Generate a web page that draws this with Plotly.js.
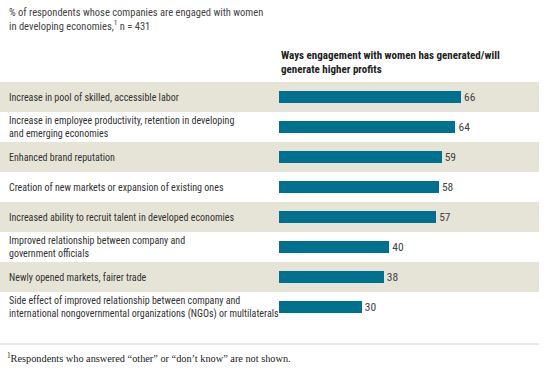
<!DOCTYPE html>
<html>
<head>
<meta charset="utf-8">
<script src="https://cdn.plot.ly/plotly-3.0.1.min.js"></script>
<style>html,body{margin:0;padding:0;background:#fff;}#chart{width:545px;height:369px;}</style>
</head>
<body>
<div id="chart"></div>
<script>
const categories = [
  "Increase in pool of skilled, accessible labor",
  "Increase in employee productivity, retention in developing<br>and emerging economies",
  "Enhanced brand reputation",
  "Creation of new markets or expansion of existing ones",
  "Increased ability to recruit talent in developed economies",
  "Improved relationship between company and<br>government officials",
  "Newly opened markets, fairer trade",
  "Side effect of improved relationship between company and<br>international nongovernmental organizations (NGOs) or multilaterals"
];
const values = [66, 64, 59, 58, 57, 40, 38, 30];
const subtitle = "% of respondents whose companies are engaged with women<br>in developing economies,<sup>1</sup> n = 431";
const header = "Ways engagement with women has generated/will<br>generate higher profits";
const footnote = "<sup>1</sup>Respondents who answered “other” or “don’t know” are not shown.";

const W = 545, H = 369;
const mL = 279, mR = 6, mT = 82, mB = 47;
const plotW = W - mL - mR;
const plotH = H - mT - mB;
const narrow = "'Roboto Condensed', 'Liberation Sans', Arial, sans-serif";
const idx = categories.map((_, i) => i);

const shapes = idx.filter(i => i % 2 === 0).map(i => ({
  type: 'rect', xref: 'paper', yref: 'y', layer: 'below',
  x0: -mL / plotW, x1: 1, y0: i - 0.5, y1: i + 0.5,
  fillcolor: '#e6e4d6', line: {width: 0}
}));
shapes.push({type: 'line', xref: 'paper', yref: 'paper', x0: -mL / plotW, x1: 1,
  y0: -22 / plotH, y1: -22 / plotH, line: {color: '#d4d4d4', width: 1}});

const annotations = idx.map(i => ({
  xref: 'paper', yref: 'y', x: (-mL + 7) / plotW, y: i, xanchor: 'left', yanchor: 'middle',
  text: categories[i], showarrow: false, align: 'left',
  font: {family: narrow, size: 10, color: '#333'}
}));
annotations.push({
  xref: 'paper', yref: 'paper', x: (-mL + 7) / plotW, y: 1 + (mT - 4) / plotH, xanchor: 'left', yanchor: 'top',
  text: subtitle, showarrow: false, align: 'left', font: {family: narrow, size: 10.5, color: '#444'}
});
annotations.push({
  xref: 'paper', yref: 'paper', x: 0, y: 1 + (mT - 47) / plotH, xanchor: 'left', yanchor: 'top',
  text: '<b>' + header + '</b>', showarrow: false, align: 'left', font: {family: narrow, size: 11, color: '#222'}
});
annotations.push({
  xref: 'paper', yref: 'paper', x: (-mL + 5) / plotW, y: -28 / plotH, xanchor: 'left', yanchor: 'top',
  text: footnote, showarrow: false, align: 'left', font: {family: "'Liberation Serif', 'Times New Roman', serif", size: 10.3, color: '#222'}
});

const trace = {
  type: 'bar', orientation: 'h', x: values, y: idx, width: 0.37,
  marker: {color: '#00708f', line: {width: 0}},
  text: values.map(String), textposition: 'outside', cliponaxis: false, constraintext: 'none',
  textfont: {family: narrow, size: 11.5, color: '#444'},
  hoverinfo: 'none'
};

const layout = {
  width: W, height: H,
  margin: {l: mL, r: mR, t: mT, b: mB, pad: 0},
  paper_bgcolor: '#fff', plot_bgcolor: 'rgba(0,0,0,0)',
  showlegend: false,
  xaxis: {range: [0, 94.3], visible: false, fixedrange: true},
  yaxis: {range: [categories.length - 0.5, -0.5], visible: false, fixedrange: true},
  shapes: shapes, annotations: annotations,
  bargap: 0
};

Plotly.newPlot('chart', [trace], layout, {displayModeBar: false, staticPlot: true});
</script>
</body>
</html>
